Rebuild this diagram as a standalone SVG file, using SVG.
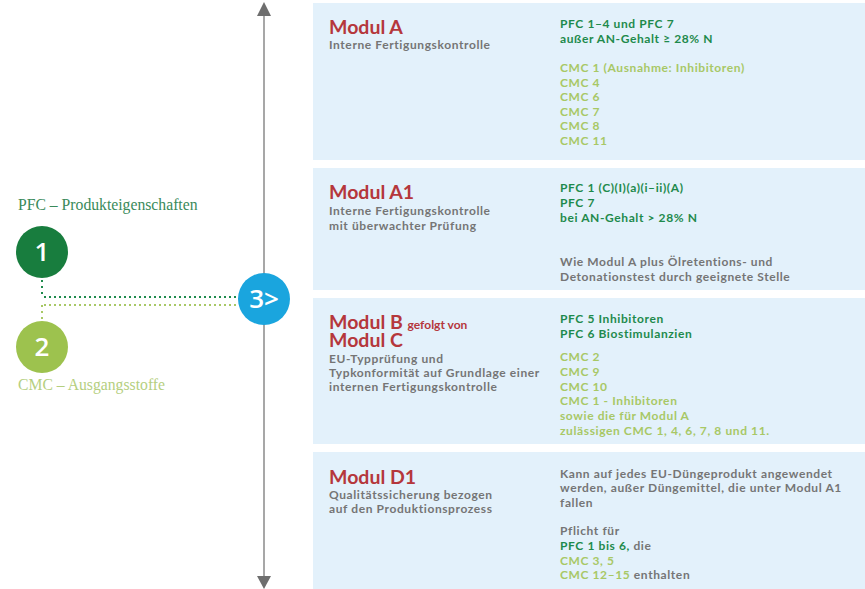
<svg xmlns="http://www.w3.org/2000/svg" width="865" height="589" viewBox="0 0 865 589">
<style>
.panel{fill:#e3f1fb}
.t{font-family:Lato,"Noto Sans","Liberation Sans",sans-serif;font-size:12px;letter-spacing:0.6px;font-weight:700}
.h{font-family:Lato,"Noto Sans","Liberation Sans",sans-serif;font-size:19.5px;font-weight:700;fill:#b5373c}
.g{fill:#757575}
.dg{fill:#1e8a4c}
.lg{fill:#a8c866}
.serif{font-family:"Liberation Serif","Times New Roman",serif;font-size:15.7px}
.num{font-family:"Open Sans","Noto Sans","Liberation Sans",sans-serif;font-size:26px;font-weight:600;fill:#ffffff;text-anchor:middle}
</style>
<rect width="865" height="589" fill="#ffffff"/>

<g id="connectors">
<line x1="264" y1="14" x2="264" y2="578" stroke="#8a8a8a" stroke-width="1.5"/>
<path d="M257,16 L264,2 L271,16 z" fill="#6e6e6e"/>
<path d="M257,576 L264,589 L271,576 z" fill="#6e6e6e"/>
<line x1="42" y1="280" x2="42" y2="297" stroke="#1e8a4c" stroke-width="2" stroke-dasharray="2,4"/>
<line x1="42" y1="305" x2="42" y2="320" stroke="#a8c866" stroke-width="2" stroke-dasharray="2,4"/>
<line x1="44" y1="297" x2="238" y2="297" stroke="#1e8a4c" stroke-width="2" stroke-dasharray="2,3"/>
<line x1="44" y1="305" x2="238" y2="305" stroke="#a8c866" stroke-width="2" stroke-dasharray="2,3"/>
</g>

<g id="label-pfc"><text class="serif" x="18" y="210" fill="#3a8a5a">PFC – Produkteigenschaften</text></g>
<g id="label-cmc"><text class="serif" x="18" y="390" fill="#b5cf7f">CMC – Ausgangsstoffe</text></g>

<g id="node1"><circle cx="42" cy="252" r="26" fill="#187d3e"/><text class="num" x="42" y="261">1</text></g>
<g id="node2"><circle cx="42" cy="347" r="26" fill="#9dc24e"/><text class="num" x="42" y="356">2</text></g>
<g id="node3"><circle cx="264" cy="299" r="26" fill="#1aa5de"/><text class="num" x="264" y="308">3&gt;</text></g>

<g id="panel-a">
<rect class="panel" x="313" y="3" width="552" height="157"/>
<text class="h" x="329" y="34">Modul A</text>
<text class="t g" x="329" y="49">Interne Fertigungskontrolle</text>
<text class="t dg" x="560" y="28">PFC 1–4 und PFC 7</text>
<text class="t dg" x="560" y="43">außer AN-Gehalt ≥ 28% N</text>
<text class="t lg" x="560" y="72">CMC 1 (Ausnahme: Inhibitoren)</text>
<text class="t lg" x="560" y="87">CMC 4</text>
<text class="t lg" x="560" y="101">CMC 6</text>
<text class="t lg" x="560" y="116">CMC 7</text>
<text class="t lg" x="560" y="130">CMC 8</text>
<text class="t lg" x="560" y="145">CMC 11</text>
</g>

<g id="panel-a1">
<rect class="panel" x="313" y="168" width="552" height="122"/>
<text class="h" x="329" y="199">Modul A1</text>
<text class="t g" x="329" y="215">Interne Fertigungskontrolle</text>
<text class="t g" x="329" y="230">mit überwachter Prüfung</text>
<text class="t dg" x="560" y="192">PFC 1 (C)(I)(a)(i–ii)(A)</text>
<text class="t dg" x="560" y="207">PFC 7</text>
<text class="t dg" x="560" y="222">bei AN-Gehalt &gt; 28% N</text>
<text class="t g" x="560" y="266">Wie Modul A plus Ölretentions- und</text>
<text class="t g" x="560" y="281">Detonationstest durch geeignete Stelle</text>
</g>

<g id="panel-bc">
<rect class="panel" x="313" y="298" width="552" height="146"/>
<text class="h" x="329" y="329">Modul B <tspan style="font-size:12px">gefolgt von</tspan></text>
<text class="h" x="329" y="347">Modul C</text>
<text class="t g" x="329" y="363">EU-Typprüfung und</text>
<text class="t g" x="329" y="377">Typkonformität auf Grundlage einer</text>
<text class="t g" x="329" y="391">internen Fertigungskontrolle</text>
<text class="t dg" x="560" y="323">PFC 5 Inhibitoren</text>
<text class="t dg" x="560" y="338">PFC 6 Biostimulanzien</text>
<text class="t lg" x="560" y="361">CMC 2</text>
<text class="t lg" x="560" y="376">CMC 9</text>
<text class="t lg" x="560" y="391">CMC 10</text>
<text class="t lg" x="560" y="405">CMC 1 - Inhibitoren</text>
<text class="t lg" x="560" y="420">sowie die für Modul A</text>
<text class="t lg" x="560" y="435">zulässigen CMC 1, 4, 6, 7, 8 und 11.</text>
</g>

<g id="panel-d1">
<rect class="panel" x="313" y="452" width="552" height="137"/>
<text class="h" x="329" y="484">Modul D1</text>
<text class="t g" x="329" y="499">Qualitätssicherung bezogen</text>
<text class="t g" x="329" y="513">auf den Produktionsprozess</text>
<text class="t g" x="560" y="478">Kann auf jedes EU-Düngeprodukt angewendet</text>
<text class="t g" x="560" y="492">werden, außer Düngemittel, die unter Modul A1</text>
<text class="t g" x="560" y="507">fallen</text>
<text class="t g" x="560" y="535">Pflicht für</text>
<text class="t" x="560" y="550"><tspan class="dg">PFC 1 bis 6,</tspan><tspan class="g"> die</tspan></text>
<text class="t lg" x="560" y="565">CMC 3, 5</text>
<text class="t" x="560" y="579"><tspan class="lg">CMC 12–15</tspan><tspan class="g"> enthalten</tspan></text>
</g>
</svg>
